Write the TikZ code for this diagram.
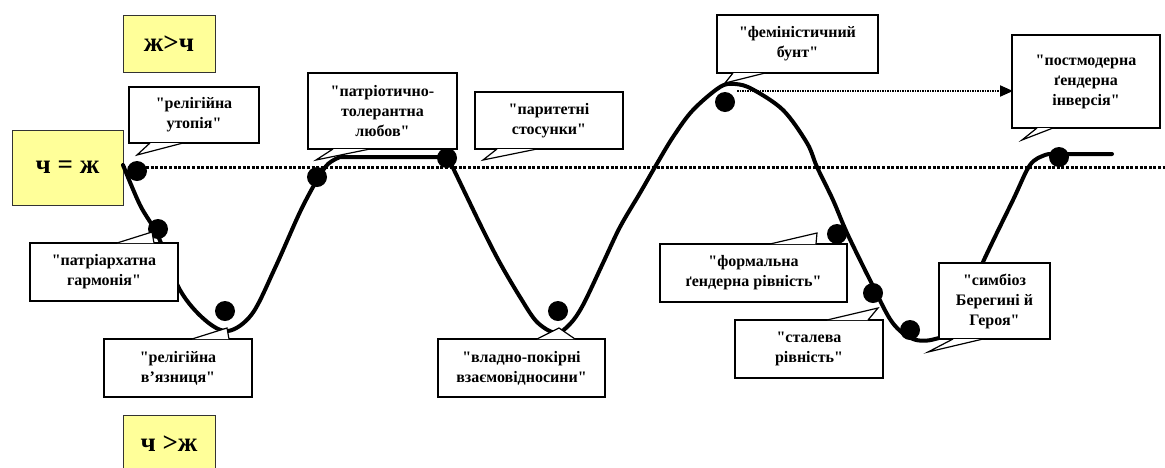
\documentclass[tikz,border=0pt]{standalone}
\usepackage{fontspec}
\setmainfont{Liberation Serif}[Ligatures=TeXOff]
\usetikzlibrary{arrows.meta}
\definecolor{lightyel}{RGB}{255,255,153}
\tikzset{
  ybox/.style={draw=black!80, line width=1pt, fill=lightyel, font=\bfseries\fontsize{27}{30}\selectfont, inner sep=0pt},
  call/.style={draw=black, line width=1.2pt, fill=white, align=center, inner sep=0pt, font=\bfseries\fontsize{16}{20}\selectfont},
  curve/.style={line width=4pt, line join=round, line cap=round},
  dotm/.style={circle, fill=black, minimum size=20pt, inner sep=0pt},
  eqline/.style={line width=3pt, dash pattern=on 3pt off 1.6pt},
  futline/.style={line width=2pt, dash pattern=on 1.5pt off 1pt, -{Triangle[length=13pt,width=11pt]}}
}
\newcommand{\callout}[9]{% name, x1,y1,x2,y2, text, base-a, base-b, tip
  \node[call, minimum width={#4-#2}, minimum height={#5-#3}] (#1) at ({(#2+#4)/2},{(#3+#5)/2}) {#6};
  \fill[white] #7 -- #9 -- #8 -- cycle;
  \draw[line width=1.2pt, line join=miter] #7 -- #9 -- #8;
}
\begin{document}
\begin{tikzpicture}[x=1pt, y=-1pt]
\useasboundingbox (0,0) rectangle (1165,467);
\begin{scope}
\clip (0,0) rectangle (1165,467);
% level line
\coordinate (eqL) at (123,167);
\coordinate (eqR) at (1165,167);
\draw[eqline] (eqL) -- (eqR);
% yellow boxes
\node[ybox, minimum width=92pt, minimum height=57pt] (wgm) at (169,43.5) {ж>ч};
\node[ybox, minimum width=111pt, minimum height=75pt] (eq) at (67.5,167.5) {ч = ж};
\node[ybox, minimum width=92pt, minimum height=57pt] (mgw) at (169,443.5) {ч >ж};
% curve
\draw[curve] plot[smooth, tension=0.55] coordinates {(123,165) (140,205) (158,236) (180,290) (205,320) (228,331) (252,314) (275,268) (300,212) (317,180) (328,164) (340,157)} -- (447,157)
  plot[smooth, tension=0.55] coordinates {(447,157) (453,168) (467,197) (483,230) (500,263) (520,297) (537,322) (556,333) (570,324) (583,305) (603,263) (620,227) (640,193) (655,167) (673,137) (693,110) (720,87) (735,84) (752,89) (783,110) (807,143) (817,167) (833,200) (847,233) (870,280) (892,322) (913,339) (935,339) (955,326) (983,262) (1013,200) (1030,165) (1045,155) (1055,154)} -- (1112,154);
% future arrow
\coordinate (fa) at (737,91);
\coordinate (fb) at (1013,91);
\draw[futline] (fa) -- (fb);
% dots
\node[dotm] (d1) at (137,171) {};
\node[dotm] (d2) at (158,229) {};
\node[dotm] (d3) at (225,311) {};
\node[dotm] (d4) at (317,177) {};
\node[dotm] (d5) at (447,158) {};
\node[dotm] (d6) at (558,311) {};
\node[dotm] (d7) at (725,102) {};
\node[dotm] (d8) at (837,234) {};
\node[dotm] (d9) at (873,293) {};
\node[dotm] (d10) at (910,330) {};
\node[dotm] (d11) at (1059,157) {};
% callouts
\callout{c1}{129}{87}{259}{143}{"релігійна\\утопія"}{(150,143)}{(183,143)}{(137,155)}
\callout{c2}{308}{73}{457}{149}{"патріотично-\\толерантна\\любов"}{(333,149)}{(370,149)}{(316,160)}
\callout{c3}{475}{92}{623}{149}{"паритетні\\стосунки"}{(497,149)}{(537,149)}{(483,160)}
\callout{c4}{30}{243}{178}{301}{"патріархатна\\гармонія"}{(117,243)}{(154,243)}{(152,232)}
\callout{c5}{104}{339}{252}{397}{"релігійна\\в’язниця"}{(192,339)}{(229,339)}{(227,328)}
\callout{c6}{438}{339}{605}{397}{"владно-покірні\\взаємовідносини"}{(537,339)}{(575,339)}{(559,328)}
\callout{c7}{717}{15}{878}{73}{"феміністичний\\бунт"}{(733,73)}{(765,73)}{(725,83)}
\callout{c8}{1012}{35}{1160}{128}{"постмодерна\\ґендерна\\інверсія"}{(1037,128)}{(1053,128)}{(1022,140)}
\callout{c9}{660}{244}{847}{302}{"формальна\\ґендерна рівність"}{(770,244)}{(816,244)}{(817,233)}
\callout{c10}{735}{320}{883}{378}{"сталева\\рівність"}{(827,320)}{(868,320)}{(878,308)}
\callout{c11}{939}{263}{1050}{339}{"симбіоз\\Берегині й\\Героя"}{(953,339)}{(983,339)}{(928,352)}
\end{scope}
\end{tikzpicture}
\end{document}
